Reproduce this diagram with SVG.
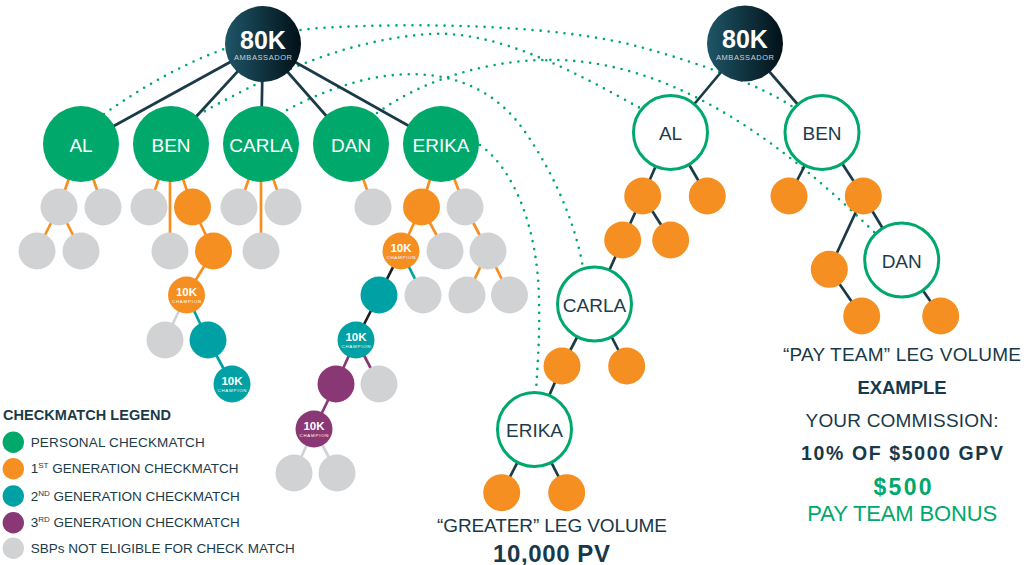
<svg xmlns="http://www.w3.org/2000/svg" width="1036" height="565" viewBox="0 0 1036 565">
<defs>
<linearGradient id="amb" x1="0" y1="0" x2="1" y2="0">
<stop offset="0" stop-color="#1e5668"/>
<stop offset="1" stop-color="#021017"/>
</linearGradient>
</defs>
<style>
text{font-family:"Liberation Sans",Arial,sans-serif}
.dot{fill:none;stroke:#00a86b;stroke-width:2.6;stroke-linecap:round;stroke-dasharray:0 8}
.ln{stroke-width:2.7;fill:none}
.dk{stroke:#1b3a48}
.bk{stroke:#231f20}
.or{stroke:#f58f22}
.te{stroke:#00a1a4}
.pu{stroke:#8a3776}
.gr{stroke:#d1d2d4}
.g{fill:#00a86b}
.o{fill:#f58f22}
.t{fill:#00a1a4}
.p{fill:#8a3776}
.s{fill:#d1d2d4}
.amb{fill:url(#amb)}
.ring{fill:#fff;stroke:#00a86b;stroke-width:3}
.big{font-size:25px;font-weight:700;fill:#fff;text-anchor:middle}
.ambt{font-size:7.5px;fill:#c9d3d7;text-anchor:middle}
.nmw{font-size:19px;fill:#fff;text-anchor:middle}
.nmd{font-size:19px;fill:#1d3c4a;text-anchor:middle}
.k10{font-size:11.5px;font-weight:700;fill:#fff;text-anchor:middle}
.chp{font-size:4.4px;fill:#fff;text-anchor:middle}
.lgh{font-size:14.5px;font-weight:700;fill:#1b3b49}
.lg{font-size:13.5px;fill:#1b3b49}
.sup{font-size:8px}
.cap{font-size:19px;fill:#17394a;text-anchor:middle}
.capb{font-size:19px;font-weight:700;fill:#17394a;text-anchor:middle}
.grn{fill:#00a86b;text-anchor:middle}
</style>

<g id="connectors">
<path class="dot" d="M104,114 C160,75 230,35 320,28 C420,22 560,25 640,47 C700,63 760,85 793,107"/>
<path class="dot" d="M198,115 C260,80 340,40 430,34 C500,30 580,75 640,108"/>
<path class="dot" d="M287,110 C380,60 470,60 520,125 C550,165 575,220 583,268"/>
<path class="dot" d="M377,113 C430,75 500,58 560,60 C660,64 760,120 875,233"/>
<path class="dot" d="M480,145 C515,170 538,230 539,300 C540,340 537,370 536,392"/>
<g class="ln dk" stroke-width="3">
<line x1="263" y1="44" x2="81" y2="144"/>
<line x1="263" y1="44" x2="171" y2="144"/>
<line x1="263" y1="44" x2="261" y2="144"/>
<line x1="263" y1="44" x2="351" y2="144"/>
<line x1="263" y1="44" x2="441" y2="144"/>
</g>
<g class="ln or">
<line x1="81" y1="144" x2="59" y2="207"/>
<line x1="81" y1="144" x2="103" y2="207"/>
<line x1="59" y1="207" x2="37" y2="251"/>
<line x1="59" y1="207" x2="81" y2="251"/>
<line x1="171" y1="144" x2="149" y2="207"/>
<line x1="171" y1="144" x2="192.5" y2="207"/>
<line x1="170" y1="144" x2="170" y2="251"/>
<line x1="192.5" y1="207" x2="213.5" y2="251"/>
<line x1="213.5" y1="251" x2="186.5" y2="295"/>
<line x1="261" y1="144" x2="239" y2="207"/>
<line x1="261" y1="144" x2="283" y2="207"/>
<line x1="261" y1="144" x2="261" y2="251"/>
<line x1="351" y1="144" x2="373" y2="207"/>
<line x1="441" y1="144" x2="421.5" y2="207"/>
<line x1="441" y1="144" x2="465" y2="207"/>
<line x1="421.5" y1="207" x2="401" y2="251"/>
<line x1="421.5" y1="207" x2="445" y2="251"/>
<line x1="465" y1="207" x2="488" y2="251"/>
<line x1="488" y1="251" x2="467" y2="295"/>
<line x1="488" y1="251" x2="509.5" y2="295"/>
</g>
<g class="ln te">
<line x1="186.5" y1="295" x2="208" y2="340"/>
<line x1="208" y1="340" x2="232" y2="384"/>
<line x1="401" y1="251" x2="423" y2="295"/>
</g>
<g class="ln gr">
<line x1="186.5" y1="295" x2="165" y2="340"/>
<line x1="314" y1="429" x2="294" y2="473"/>
<line x1="314" y1="429" x2="337" y2="473"/>
</g>
<g class="ln bk">
<line x1="401" y1="251" x2="379" y2="295"/>
<line x1="379" y1="295" x2="356" y2="340"/>
</g>
<g class="ln pu">
<line x1="356" y1="340" x2="336" y2="384"/>
<line x1="356" y1="340" x2="379" y2="384"/>
<line x1="336" y1="384" x2="314" y2="429"/>
</g>
<g class="ln dk">
<line x1="745" y1="43.5" x2="670.5" y2="132.5"/>
<line x1="745" y1="43.5" x2="822" y2="132.5"/>
<line x1="670.5" y1="132.5" x2="642.7" y2="196"/>
<line x1="670.5" y1="132.5" x2="707.3" y2="196"/>
<line x1="822" y1="132.5" x2="789" y2="196"/>
<line x1="822" y1="132.5" x2="863.3" y2="196"/>
<line x1="642.7" y1="196" x2="622.7" y2="240"/>
<line x1="642.7" y1="196" x2="670.7" y2="240"/>
<line x1="622.7" y1="240" x2="594.5" y2="304"/>
<line x1="594.5" y1="304" x2="562" y2="366"/>
<line x1="594.5" y1="304" x2="626.7" y2="366"/>
<line x1="562" y1="366" x2="534.5" y2="429.5"/>
<line x1="534.5" y1="429.5" x2="501.7" y2="492.7"/>
<line x1="534.5" y1="429.5" x2="566.7" y2="492.7"/>
<line x1="863.3" y1="196" x2="829.3" y2="269.3"/>
<line x1="863.3" y1="196" x2="901.7" y2="260"/>
<line x1="829.3" y1="269.3" x2="861.7" y2="316"/>
<line x1="901.7" y1="260" x2="940.7" y2="316"/>
</g>
</g>

<g id="l-80k"><circle class="amb" cx="263" cy="44" r="38"/><text class="big" x="263" y="48.5">80K</text><text class="ambt" x="263" y="60" textLength="58">AMBASSADOR</text></g>
<g id="l-al"><circle class="g" cx="81" cy="144" r="38"/><text class="nmw" x="81" y="151.5">AL</text></g>
<g id="l-ben"><circle class="g" cx="171" cy="144" r="38"/><text class="nmw" x="171" y="151.5">BEN</text></g>
<g id="l-carla"><circle class="g" cx="261" cy="144" r="38"/><text class="nmw" x="261" y="151.5">CARLA</text></g>
<g id="l-dan"><circle class="g" cx="351" cy="144" r="38"/><text class="nmw" x="351" y="151.5">DAN</text></g>
<g id="l-erika"><circle class="g" cx="441" cy="144" r="38"/><text class="nmw" x="441" y="151.5">ERIKA</text></g>

<g id="l-al-1"><circle class="s" cx="59" cy="207" r="18.5"/></g>
<g id="l-al-2"><circle class="s" cx="103" cy="207" r="18.5"/></g>
<g id="l-al-1-1"><circle class="s" cx="37" cy="251" r="18.5"/></g>
<g id="l-al-1-2"><circle class="s" cx="81" cy="251" r="18.5"/></g>

<g id="l-ben-1"><circle class="s" cx="149" cy="207" r="18.5"/></g>
<g id="l-ben-2"><circle class="o" cx="192.5" cy="207" r="18.5"/></g>
<g id="l-ben-3"><circle class="s" cx="170" cy="251" r="18.5"/></g>
<g id="l-ben-2-1"><circle class="o" cx="213.5" cy="251" r="18.5"/></g>
<g id="l-ben-10k"><circle class="o" cx="186.5" cy="295" r="18.5"/><text class="k10" x="186.5" y="296.2">10K</text><text class="chp" x="186.5" y="302.8" textLength="29">CHAMPION</text></g>
<g id="l-ben-10k-1"><circle class="s" cx="165" cy="340" r="18.5"/></g>
<g id="l-ben-10k-2"><circle class="t" cx="208" cy="340" r="18.5"/></g>
<g id="l-ben-t10k"><circle class="t" cx="232" cy="384" r="18.5"/><text class="k10" x="232" y="385.2">10K</text><text class="chp" x="232" y="391.8" textLength="29">CHAMPION</text></g>

<g id="l-carla-1"><circle class="s" cx="239" cy="207" r="18.5"/></g>
<g id="l-carla-2"><circle class="s" cx="283" cy="207" r="18.5"/></g>
<g id="l-carla-3"><circle class="s" cx="261" cy="251" r="18.5"/></g>

<g id="l-dan-1"><circle class="s" cx="373" cy="207" r="18.5"/></g>

<g id="l-erika-1"><circle class="o" cx="421.5" cy="207" r="18.5"/></g>
<g id="l-erika-2"><circle class="s" cx="465" cy="207" r="18.5"/></g>
<g id="l-erika-10k"><circle class="o" cx="401" cy="251" r="18.5"/><text class="k10" x="401" y="252.2">10K</text><text class="chp" x="401" y="258.8" textLength="29">CHAMPION</text></g>
<g id="l-erika-1-2"><circle class="s" cx="445" cy="251" r="18.5"/></g>
<g id="l-erika-2-1"><circle class="s" cx="488" cy="251" r="18.5"/></g>
<g id="l-erika-teal"><circle class="t" cx="379" cy="295" r="18.5"/></g>
<g id="l-erika-10k-2"><circle class="s" cx="423" cy="295" r="18.5"/></g>
<g id="l-erika-2-1-1"><circle class="s" cx="467" cy="295" r="18.5"/></g>
<g id="l-erika-2-1-2"><circle class="s" cx="509.5" cy="295" r="18.5"/></g>
<g id="l-erika-t10k"><circle class="t" cx="356" cy="340" r="18.5"/><text class="k10" x="356" y="341.2">10K</text><text class="chp" x="356" y="347.8" textLength="29">CHAMPION</text></g>
<g id="l-erika-purple"><circle class="p" cx="336" cy="384" r="18.5"/></g>
<g id="l-erika-t10k-2"><circle class="s" cx="379" cy="384" r="18.5"/></g>
<g id="l-erika-p10k"><circle class="p" cx="314" cy="429" r="18.5"/><text class="k10" x="314" y="430.2">10K</text><text class="chp" x="314" y="436.8" textLength="29">CHAMPION</text></g>
<g id="l-erika-p10k-1"><circle class="s" cx="294" cy="473" r="18.5"/></g>
<g id="l-erika-p10k-2"><circle class="s" cx="337" cy="473" r="18.5"/></g>

<g id="r-80k"><circle class="amb" cx="745" cy="43.5" r="38"/><text class="big" x="745" y="48">80K</text><text class="ambt" x="745" y="60" textLength="58">AMBASSADOR</text></g>
<g id="r-al"><circle class="ring" cx="670.5" cy="132.5" r="37"/><text class="nmd" x="670.5" y="140">AL</text></g>
<g id="r-ben"><circle class="ring" cx="822" cy="132.5" r="37"/><text class="nmd" x="822" y="140">BEN</text></g>
<g id="r-carla"><circle class="ring" cx="594.5" cy="304" r="37"/><text class="nmd" x="594.5" y="311.5">CARLA</text></g>
<g id="r-erika"><circle class="ring" cx="534.5" cy="429.5" r="37"/><text class="nmd" x="534.5" y="437">ERIKA</text></g>
<g id="r-dan"><circle class="ring" cx="901.7" cy="260" r="37"/><text class="nmd" x="901.7" y="267.5">DAN</text></g>
<g id="r-al-1"><circle class="o" cx="642.7" cy="196" r="18.5"/></g>
<g id="r-al-2"><circle class="o" cx="707.3" cy="196" r="18.5"/></g>
<g id="r-al-1-1"><circle class="o" cx="622.7" cy="240" r="18.5"/></g>
<g id="r-al-1-2"><circle class="o" cx="670.7" cy="240" r="18.5"/></g>
<g id="r-carla-1"><circle class="o" cx="562" cy="366" r="18.5"/></g>
<g id="r-carla-2"><circle class="o" cx="626.7" cy="366" r="18.5"/></g>
<g id="r-erika-1"><circle class="o" cx="501.7" cy="492.7" r="18.5"/></g>
<g id="r-erika-2"><circle class="o" cx="566.7" cy="492.7" r="18.5"/></g>
<g id="r-ben-1"><circle class="o" cx="789" cy="196" r="18.5"/></g>
<g id="r-ben-2"><circle class="o" cx="863.3" cy="196" r="18.5"/></g>
<g id="r-ben-2-1"><circle class="o" cx="829.3" cy="269.3" r="18.5"/></g>
<g id="r-ben-2-1-1"><circle class="o" cx="861.7" cy="316" r="18.5"/></g>
<g id="r-dan-1"><circle class="o" cx="940.7" cy="316" r="18.5"/></g>

<g id="legend">
<text class="lgh" x="3" y="420" textLength="168">CHECKMATCH LEGEND</text>
<circle class="g" cx="13.3" cy="442.3" r="10.7"/>
<text class="lg" x="30.7" y="447.3" textLength="174">PERSONAL CHECKMATCH</text>
<circle class="o" cx="13.3" cy="468.7" r="10.7"/>
<text class="lg" x="30.7" y="473.3">1<tspan class="sup" dy="-5">ST</tspan><tspan dy="5"> GENERATION CHECKMATCH</tspan></text>
<circle class="t" cx="13.3" cy="496" r="10.7"/>
<text class="lg" x="30.7" y="500.7">2<tspan class="sup" dy="-5">ND</tspan><tspan dy="5"> GENERATION CHECKMATCH</tspan></text>
<circle class="p" cx="13.3" cy="522.7" r="10.7"/>
<text class="lg" x="30.7" y="527.3">3<tspan class="sup" dy="-5">RD</tspan><tspan dy="5"> GENERATION CHECKMATCH</tspan></text>
<circle class="s" cx="13.3" cy="548.3" r="10.7"/>
<text class="lg" x="30.7" y="553.3" textLength="264">SBPs NOT ELIGIBLE FOR CHECK MATCH</text>
</g>

<g id="greater-caption">
<text class="cap" x="552" y="531.7" textLength="230">“GREATER” LEG VOLUME</text>
<text class="capb" x="551.5" y="561.5" style="font-size:24px" textLength="117">10,000 PV</text>
</g>
<g id="payteam-caption">
<text class="cap" x="902" y="360.7" textLength="238">“PAY TEAM” LEG VOLUME</text>
<text class="capb" x="902" y="394" style="font-size:18.5px" textLength="89">EXAMPLE</text>
<text class="cap" x="902" y="427.3" textLength="193">YOUR COMMISSION:</text>
<text class="capb" x="902" y="460" style="font-size:19.5px" textLength="202">10% OF $5000 GPV</text>
<text class="grn" x="902.5" y="495" style="font-size:23px;font-weight:700" textLength="58">$500</text>
<text class="grn" x="902.3" y="520.7" style="font-size:22px" textLength="190">PAY TEAM BONUS</text>
</g>
</svg>
